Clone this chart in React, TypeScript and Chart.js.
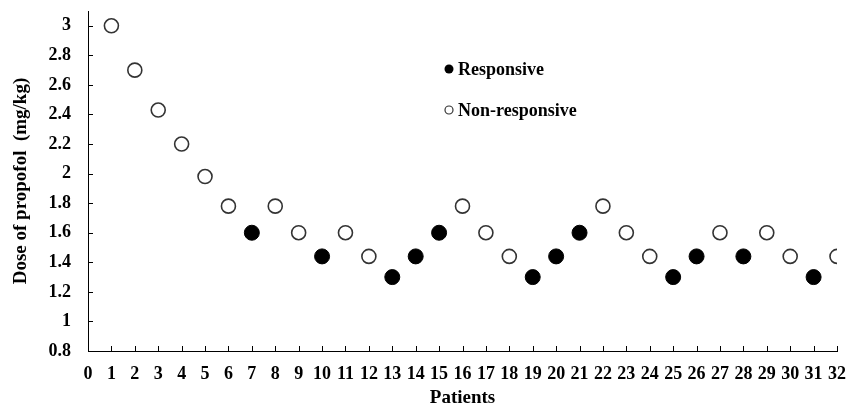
import React, { useEffect, useRef } from "react";
import { Chart, registerables } from "chart.js";

Chart.register(...registerables);

const patients = [1, 2, 3, 4, 5, 6, 7, 8, 9, 10, 11, 12, 13, 14, 15, 16, 17, 18, 19, 20, 21, 22, 23, 24, 25, 26, 27, 28, 29, 30, 31, 32];
const doses = [3.0, 2.7, 2.43, 2.2, 1.98, 1.78, 1.6, 1.78, 1.6, 1.44, 1.6, 1.44, 1.3, 1.44, 1.6, 1.78, 1.6, 1.44, 1.3, 1.44, 1.6, 1.78, 1.6, 1.44, 1.3, 1.44, 1.6, 1.44, 1.6, 1.44, 1.3, 1.44];
// 1 = responsive, 0 = non-responsive
const responsive = [0, 0, 0, 0, 0, 0, 1, 0, 0, 1, 0, 0, 1, 1, 1, 0, 0, 0, 1, 1, 1, 0, 0, 0, 1, 1, 0, 1, 0, 0, 1, 0];
const xTicks = [0, 1, 2, 3, 4, 5, 6, 7, 8, 9, 10, 11, 12, 13, 14, 15, 16, 17, 18, 19, 20, 21, 22, 23, 24, 25, 26, 27, 28, 29, 30, 31, 32];
const yTicks = [0.8, 1.0, 1.2, 1.4, 1.6, 1.8, 2.0, 2.2, 2.4, 2.6, 2.8, 3.0];
const legendLabels = ["Responsive", "Non-responsive"];
const yTitle = "Dose of propofol  (mg/kg)";
const xTitle = "Patients";

const SERIF = "'Liberation Serif', 'Times New Roman', serif";

const tickMarks = {
  id: "tickMarks",
  afterDraw(chart: any) {
    const { ctx, chartArea, scales } = chart;
    const xs = scales.x;
    const ys = scales.y;
    ctx.save();
    ctx.strokeStyle = "#000";
    ctx.lineWidth = 1;
    ctx.beginPath();
    xTicks.forEach((v) => {
      if (v === 0) return;
      const px = Math.round(xs.getPixelForValue(v)) + 0.5;
      ctx.moveTo(px, chartArea.bottom);
      ctx.lineTo(px, chartArea.bottom - 5);
    });
    yTicks.forEach((v, i) => {
      if (i === 0) return;
      const py = Math.round(ys.getPixelForValue(v)) + 0.5;
      ctx.moveTo(chartArea.left, py);
      ctx.lineTo(chartArea.left + 5, py);
    });
    ctx.stroke();
    ctx.restore();
  },
};

const insideLegend = {
  id: "insideLegend",
  afterDraw(chart: any) {
    const { ctx, chartArea } = chart;
    const x0 = chartArea.left + 361;
    const rows = [chartArea.top + 58, chartArea.top + 99];
    ctx.save();
    ctx.font = `bold 18px ${SERIF}`;
    ctx.textBaseline = "middle";
    ctx.textAlign = "left";
    ctx.fillStyle = "#000";
    legendLabels.forEach((label, i) => {
      const y = rows[i];
      ctx.beginPath();
      ctx.arc(x0, y, i === 0 ? 4.5 : 4, 0, Math.PI * 2);
      if (i === 0) {
        ctx.fillStyle = "#000";
        ctx.fill();
      } else {
        ctx.fillStyle = "#fff";
        ctx.fill();
        ctx.lineWidth = 1.2;
        ctx.strokeStyle = "#333";
        ctx.stroke();
      }
      ctx.fillStyle = "#000";
      ctx.fillText(label, x0 + 9, y + 1);
    });
    ctx.restore();
  },
};

export default function App() {
  const ref = useRef<HTMLCanvasElement | null>(null);

  useEffect(() => {
    if (!ref.current) return;
    const respData = patients
      .map((p, i) => ({ x: p, y: doses[i], r: responsive[i] }))
      .filter((d) => d.r === 1)
      .map((d) => ({ x: d.x, y: d.y }));
    const nonData = patients
      .map((p, i) => ({ x: p, y: doses[i], r: responsive[i] }))
      .filter((d) => d.r === 0)
      .map((d) => ({ x: d.x, y: d.y }));

    const chart = new Chart(ref.current, {
      type: "scatter",
      data: {
        datasets: [
          {
            label: legendLabels[0],
            data: respData,
            pointRadius: 7.5,
            pointBackgroundColor: "#000",
            pointBorderColor: "#000",
            pointBorderWidth: 1,
          },
          {
            label: legendLabels[1],
            data: nonData,
            pointRadius: 7,
            pointBackgroundColor: "#fff",
            pointBorderColor: "#333",
            pointBorderWidth: 1.6,
          },
        ],
      },
      options: {
        responsive: false,
        animation: false,
        layout: { padding: { top: 11, right: 9, left: 0, bottom: 0 } },
        plugins: {
          legend: { display: false },
          tooltip: { enabled: false },
        },
        scales: {
          x: {
            type: "linear",
            min: 0,
            max: 32,
            afterBuildTicks: (s: any) => {
              s.ticks = xTicks.map((v) => ({ value: v }));
            },
            afterFit: (s: any) => {
              s.height = 55;
              s.paddingLeft = 0;
              s.paddingRight = 0;
            },
            grid: { display: true, drawOnChartArea: false, drawTicks: false },
            border: { display: true, color: "#000", width: 1 },
            ticks: {
              padding: 13,
              color: "#000",
              autoSkip: false,
              maxRotation: 0,
              font: { family: SERIF, size: 18, weight: "bold" },
              callback: (v: any) => String(v),
            },
            title: {
              display: true,
              text: xTitle,
              color: "#000",
              font: { family: SERIF, size: 19, weight: "bold", lineHeight: 1 },
              padding: { top: 0, bottom: -2 },
            },
          },
          y: {
            type: "linear",
            min: 0.8,
            max: 3.1,
            afterBuildTicks: (s: any) => {
              s.ticks = yTicks.map((v) => ({ value: v }));
            },
            afterFit: (s: any) => {
              s.width = 88;
              s.paddingTop = 0;
              s.paddingBottom = 0;
            },
            grid: { display: true, drawOnChartArea: false, drawTicks: false },
            border: { display: true, color: "#000", width: 1 },
            ticks: {
              padding: 17,
              color: "#000",
              font: { family: SERIF, size: 18, weight: "bold" },
              callback: (v: any) => String(Number(Number(v).toFixed(1))),
            },
            title: {
              display: true,
              text: yTitle,
              color: "#000",
              font: { family: SERIF, size: 19, weight: "bold", lineHeight: 1 },
              padding: { top: 12, bottom: 0 },
            },
          },
        },
      },
      plugins: [tickMarks, insideLegend],
    } as any);
    return () => chart.destroy();
  }, []);

  return (
    <div style={{ position: "absolute", left: 0, top: 0, width: 846, height: 406, background: "#fff" }}>
      <canvas ref={ref} width={846} height={406} style={{ display: "block" }} />
    </div>
  );
}
